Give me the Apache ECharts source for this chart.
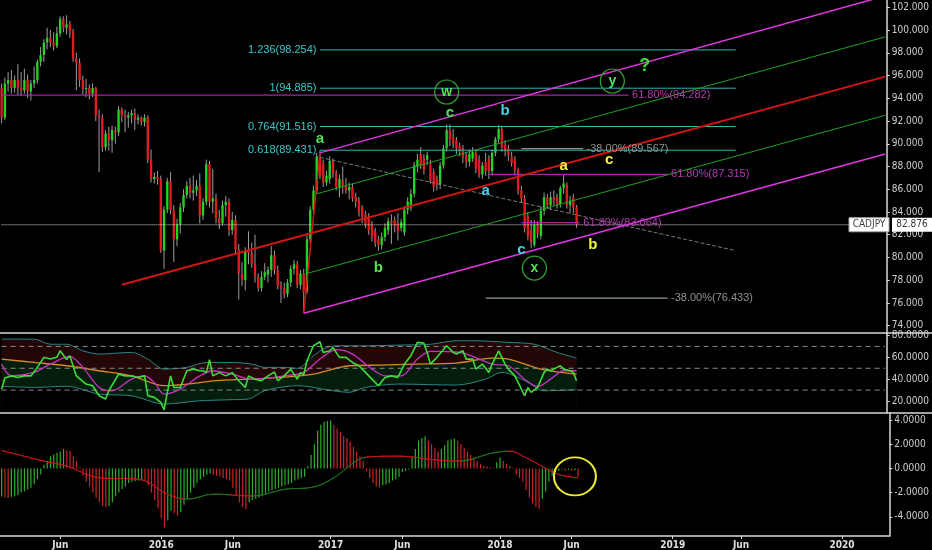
<!DOCTYPE html>
<html>
<head>
<meta charset="utf-8">
<script src="https://cdn.jsdelivr.net/npm/echarts@6/dist/echarts.min.js"></script>
<style>
html, body { margin: 0; padding: 0; background: #000; }
#chart { width: 932px; height: 550px; }
</style>
</head>
<body>
<div id="chart"></div>
<script>
var chart = echarts.init(document.getElementById('chart'));

// weekly CADJPY bars, first bar = week of 26 Jan 2015; rows are [open, close, low, high]
var ohlc2015 = [
    [94.9, 92.3, 91.8, 95.3], [92.3, 95.3, 92.1, 95.8], [95.3, 95.6, 94.6, 96.3], [95.6, 94.9, 94.4, 96.5],
    [94.9, 95.6, 94.5, 96.0], [95.6, 94.9, 94.3, 97.0], [94.9, 94.7, 94.2, 96.3], [94.7, 95.6, 94.4, 96.6],
    [95.6, 94.6, 94.0, 96.1], [94.6, 95.3, 93.8, 95.6], [95.3, 95.6, 94.9, 96.8], [95.6, 97.2, 95.3, 97.4],
    [97.2, 97.8, 96.8, 98.5], [97.8, 98.9, 97.2, 99.2], [98.9, 99.3, 98.3, 100.2], [99.3, 98.9, 98.5, 100.0],
    [98.9, 98.6, 98.2, 99.8], [98.6, 99.7, 98.4, 100.3], [99.7, 101.0, 99.4, 101.2], [101.0, 100.2, 99.8, 101.2],
    [100.2, 100.5, 99.6, 101.3], [100.5, 99.9, 99.3, 100.8], [99.9, 97.5, 97.2, 100.1], [97.5, 97.1, 94.7, 98.0],
    [97.1, 95.6, 95.0, 97.5], [95.6, 94.8, 94.3, 96.0], [94.8, 94.9, 94.1, 95.7], [94.9, 94.4, 93.9, 95.2],
    [94.4, 94.9, 94.1, 95.3], [94.9, 92.5, 92.0, 95.0], [92.5, 92.3, 87.5, 93.0], [92.3, 89.7, 89.3, 92.6],
    [89.7, 90.9, 89.4, 91.2], [90.9, 90.3, 89.4, 91.5], [90.3, 91.2, 89.2, 91.6], [91.2, 91.0, 90.0, 91.5],
    [91.0, 93.0, 90.7, 93.3], [93.0, 92.5, 91.9, 93.2], [92.5, 92.3, 91.0, 93.0], [92.3, 92.5, 91.4, 92.8],
    [92.5, 92.7, 91.8, 93.0], [92.7, 92.1, 91.2, 93.1], [92.1, 92.3, 91.7, 92.6], [92.3, 91.9, 91.6, 92.4],
    [91.9, 92.3, 91.5, 92.6], [92.3, 88.6, 88.3, 92.5], [88.6, 86.9, 86.6, 89.5], [86.9, 87.1, 86.5, 87.5],
    [87.1, 86.9, 86.4, 87.6]
];
var ohlc2016 = [
    [86.9, 80.6, 80.4, 87.2], [80.6, 84.2, 79.0, 84.5], [84.2, 86.7, 83.9, 87.0], [86.7, 84.2, 83.8, 87.5],
    [84.2, 81.6, 79.6, 84.6], [81.6, 82.9, 81.0, 83.4], [82.9, 84.4, 82.1, 84.8], [84.4, 85.5, 84.0, 86.0],
    [85.5, 86.3, 85.2, 86.7], [86.3, 85.7, 85.2, 87.0], [85.7, 85.9, 85.0, 87.2], [85.9, 86.3, 85.4, 86.8],
    [86.3, 83.7, 83.0, 87.4], [83.7, 84.9, 83.3, 85.2], [84.9, 88.2, 84.6, 88.6], [88.2, 84.9, 84.4, 88.5],
    [84.9, 85.2, 83.9, 87.8], [85.2, 83.5, 83.0, 85.6], [83.5, 83.0, 82.5, 84.2], [83.0, 84.6, 82.8, 85.0],
    [84.6, 84.9, 83.6, 85.4], [84.9, 82.4, 81.9, 85.2], [82.4, 83.3, 82.0, 84.0], [83.3, 80.7, 80.3, 83.7],
    [80.7, 78.6, 76.3, 81.2], [78.6, 78.0, 77.5, 79.6], [78.0, 80.6, 77.1, 80.9], [80.6, 80.4, 79.4, 82.3],
    [80.4, 79.5, 79.1, 81.3], [79.5, 78.3, 77.8, 82.0], [78.3, 77.3, 77.0, 78.6], [77.3, 78.3, 77.0, 78.8],
    [78.3, 78.7, 78.0, 79.5], [78.5, 78.9, 77.8, 79.2], [78.9, 80.2, 78.3, 81.0], [80.2, 78.9, 78.5, 80.6],
    [78.9, 77.5, 77.2, 79.3], [77.5, 77.3, 76.0, 77.9], [77.3, 76.8, 76.4, 77.8], [76.8, 77.8, 76.5, 78.1],
    [77.8, 79.0, 77.4, 79.3], [79.0, 79.4, 78.5, 79.8], [79.4, 77.6, 77.3, 79.7], [77.6, 78.6, 77.2, 78.9],
    [78.6, 77.0, 75.1, 79.0], [77.0, 81.6, 76.8, 82.0], [81.6, 84.2, 81.2, 84.5], [84.2, 85.9, 83.8, 86.3],
    [85.9, 88.9, 85.6, 89.2], [88.9, 87.2, 86.9, 89.4], [88.3, 86.6, 86.2, 88.6], [86.6, 87.2, 86.3, 87.6]
];
var ohlc2017 = [
    [86.9, 88.5, 86.5, 88.9], [88.5, 87.4, 87.0, 88.7], [87.4, 86.2, 85.9, 87.7], [86.1, 86.9, 85.3, 87.3],
    [86.8, 86.3, 85.6, 88.0], [86.3, 85.9, 85.6, 87.0], [85.9, 86.2, 85.1, 86.6], [86.2, 85.2, 84.9, 86.5],
    [85.4, 84.9, 84.4, 85.7], [85.0, 83.9, 83.6, 85.3], [84.4, 83.6, 83.0, 84.6], [83.8, 82.9, 82.6, 84.1],
    [83.4, 82.4, 82.0, 83.9], [82.9, 81.9, 81.4, 83.2], [82.3, 81.3, 80.9, 82.6], [81.6, 81.1, 80.6, 81.9],
    [81.1, 81.8, 80.7, 82.2], [81.8, 82.6, 81.4, 83.0], [82.4, 83.2, 82.0, 83.5], [83.2, 83.0, 81.2, 83.8],
    [83.3, 82.8, 82.2, 83.6], [83.0, 82.3, 81.5, 83.9], [82.6, 83.1, 82.3, 83.4], [82.2, 84.2, 81.9, 84.5],
    [84.2, 84.9, 83.8, 85.3], [84.4, 85.6, 84.1, 86.0], [85.6, 88.1, 85.3, 88.4], [88.0, 88.6, 87.5, 89.1],
    [89.1, 88.1, 87.8, 89.7], [88.8, 87.7, 87.3, 89.1], [88.6, 89.0, 88.1, 89.3], [88.2, 86.8, 86.5, 88.6],
    [87.5, 86.2, 85.8, 87.8], [86.9, 86.4, 85.9, 87.2], [86.4, 88.1, 86.0, 88.4], [88.1, 89.6, 87.8, 89.9],
    [89.6, 91.2, 89.3, 91.7], [91.2, 90.4, 89.8, 91.7], [90.6, 90.0, 89.6, 91.3], [90.3, 89.6, 89.1, 90.6],
    [89.8, 89.3, 88.9, 90.1], [89.6, 88.8, 88.3, 89.9], [89.0, 88.4, 87.9, 89.3], [88.4, 89.1, 88.0, 89.5],
    [88.7, 89.3, 88.4, 89.7], [89.2, 87.8, 87.4, 89.5], [88.6, 87.3, 87.0, 89.0], [87.3, 88.1, 86.9, 88.4],
    [88.4, 87.6, 87.2, 89.2], [88.7, 87.6, 86.9, 89.0], [87.6, 89.2, 87.2, 89.5], [89.2, 90.4, 88.9, 90.6]
];
var ohlc2018 = [
    [90.4, 91.3, 90.1, 91.65], [91.3, 89.7, 89.3, 91.6], [89.9, 89.3, 88.9, 90.3], [89.6, 89.0, 88.5, 89.9],
    [88.9, 88.3, 88.0, 89.3], [88.6, 87.7, 87.2, 88.9], [87.7, 85.9, 85.5, 87.9], [85.9, 85.2, 84.8, 86.3],
    [85.2, 82.6, 82.2, 85.5], [83.6, 81.9, 81.5, 84.0], [82.4, 81.3, 80.8, 83.3], [81.1, 82.9, 80.9, 83.3],
    [82.9, 82.1, 81.7, 83.2], [81.9, 84.1, 81.6, 84.5], [84.1, 85.3, 83.7, 85.7], [85.3, 84.6, 84.3, 85.6],
    [84.6, 85.3, 84.2, 85.8], [85.3, 85.0, 84.6, 85.9], [85.3, 84.7, 84.3, 85.6], [84.7, 86.1, 84.4, 86.3],
    [86.1, 86.5, 85.6, 87.25], [86.4, 84.6, 84.3, 86.6], [84.6, 85.0, 83.9, 85.4], [85.3, 84.4, 83.9, 85.6],
    [84.4, 82.876, 82.6, 84.6]
];
var lastClose = 82.876;

// MACD histogram, one bar per week
var macd2015 = [-2.3, -2.4, -2.45, -2.35, -2.3, -2.2, -2.0, -1.9, -1.75, -1.6, -1.3, -0.9, -0.5, 0.3, 0.6, 1.0,
    1.15, 1.3, 1.4, 1.6, 1.5, 1.45, 1.0, 0.6, 0.1, -0.6, -1.1, -1.5, -2.0, -2.4, -2.8, -3.1, -3.2, -3.1, -2.8,
    -2.3, -2.0, -1.7, -1.5, -1.2, -1.1, -1.05, -1.0, -0.95, -1.0, -1.4, -2.0, -2.6, -3.3];
var macd2016 = [-4.1, -4.9, -4.3, -3.5, -3.7, -3.9, -3.6, -3.0, -2.5, -2.0, -1.6, -1.2, -0.9, -0.7, -0.5, -0.4,
    -0.5, -0.6, -0.7, -0.8, -0.9, -1.0, -1.6, -2.2, -2.8, -3.2, -3.4, -2.8, -2.6, -2.5, -2.4, -2.3, -2.1, -1.9,
    -1.8, -1.7, -1.6, -1.5, -1.4, -1.3, -1.2, -1.0, -0.9, -0.8, -0.7, 0.2, 1.1, 2.0, 3.1, 3.6, 3.85, 3.9];
var macd2017 = [3.95, 3.6, 3.3, 3.0, 2.7, 2.5, 2.2, 1.8, 1.4, 1.0, 0.6, -0.2, -0.8, -1.2, -1.5, -1.6, -1.4, -1.3,
    -1.2, -1.0, -0.9, -0.7, -0.3, -0.2, -0.1, 0.9, 1.6, 2.3, 2.5, 2.65, 2.3, 2.0, 1.7, 1.4, 1.6, 1.9, 2.3, 2.4,
    2.45, 2.3, 2.0, 1.7, 1.4, 1.1, 0.9, 0.6, 0.35, 0.2, 0.15, 0.1, 0.05, 0.5];
var macd2018 = [0.9, 0.6, 0.4, 0.2, 0.05, -0.5, -0.8, -1.1, -1.8, -2.4, -2.9, -3.2, -3.35, -2.5, -1.9, -1.1, -0.6,
    -0.3, -0.2, -0.1, -0.2, -0.1, -0.2, -0.15, -0.7];
// MACD signal line, [week index, value]
var macdSignal = [[0, 1.48], [13, 0.6], [20, 0.19], [30, -0.77], [42, -0.9], [51, -2.13], [57, -2.54], [65, -2.13],
    [77, -2.27], [87, -1.72], [95, -1.58], [102, -0.77], [108, 0.46], [112, 0.93], [122, 1.01], [132, 0.74],
    [140, 0.6], [151, 1.28], [156, 1.42], [161, 0.87], [171, -0.49], [177, -0.77]];

// RSI panel, [week index, value]
var rsiLine = [[0, 31], [1, 41], [3, 43], [5, 41.6], [7, 43], [9, 43], [11, 50.8], [13, 60], [15, 58.4], [17, 60],
    [18, 66], [20, 58], [21, 61.5], [23, 43], [26, 35.5], [28, 34], [30, 24.8], [32, 21.8], [33, 29.4], [36, 44.6],
    [38, 43], [40, 43], [42, 41.6], [44, 43], [45, 24.8], [47, 23.3], [49, 18.7], [50, 12], [52, 43], [53, 32.4],
    [55, 32.4], [57, 47.7], [59, 49.2], [61, 47.7], [62, 47.7], [63, 46], [64, 57.8], [65, 43], [67, 46], [69, 43],
    [71, 46], [73, 38.6], [75, 32.4], [76, 43], [78, 40], [80, 38.6], [82, 43], [84, 46.6], [85, 38.6], [87, 43],
    [89, 49.2], [91, 40], [92, 46], [93, 44], [94, 56.9], [96, 70.6], [98, 74.3], [99, 64.5], [101, 66], [102, 69],
    [104, 60], [106, 60], [108, 55.3], [110, 52.3], [112, 46.2], [114, 40], [116, 34], [118, 41.6], [120, 43],
    [122, 41.6], [124, 53.8], [126, 61.5], [128, 73.7], [130, 73], [131, 64.5], [132, 53.8], [134, 60], [137, 70.6],
    [139, 64.5], [140, 63], [142, 66], [143, 58.4], [145, 58.4], [146, 49.2], [148, 53.8], [150, 46.2], [151, 53.8],
    [153, 66], [155, 53.8], [156, 49.2], [158, 43], [159, 37], [161, 24.8], [162, 32.4], [163, 27.9], [165, 32.4],
    [167, 46.2], [168, 49.2], [169, 47.7], [171, 50.8], [172, 52.3], [173, 49.2], [175, 47.7], [176, 46.2], [177, 38.6]];
var rsiUpper = [[0, 76.7], [10, 76.7], [15, 72], [20, 72], [25, 66], [30, 63], [40, 64.5], [45, 58.4], [50, 49.2],
    [57, 50.8], [63, 55.3], [71, 55.3], [77, 53.8], [81, 50.8], [87, 50.8], [91, 50], [96, 61.5], [100, 69],
    [104, 70.6], [112, 70.6], [122, 71.2], [132, 72], [140, 75.2], [145, 75.2], [156, 73.7], [164, 72], [171, 64.5],
    [177, 59.3]];
var rsiLower = [[0, 33.5], [10, 32.4], [20, 33.5], [30, 26.3], [40, 24.8], [50, 17.2], [61, 20.2], [71, 21.2],
    [76, 21.8], [81, 29.4], [91, 34], [102, 29.4], [107, 27.9], [112, 32.4], [122, 35.5], [140, 34.6], [149, 40],
    [154, 46.2], [161, 38.6], [167, 29.4], [177, 30.3]];
var rsiMid = [[0, 58.4], [10, 55.3], [20, 52.3], [30, 47.7], [40, 43], [50, 34], [57, 35.5], [66, 38.6], [76, 40],
    [86, 41.6], [96, 44.6], [107, 52.3], [117, 52.9], [127, 53.8], [140, 54.7], [151, 59.3], [156, 58.4],
    [166, 49.2], [177, 44.6]];
var rsiAvg = [[0, 53.8], [3, 43], [10, 46.2], [15, 53.8], [21, 60.8], [25, 50.8], [30, 32.4], [34, 29.4], [40, 40],
    [44, 43], [47, 37], [50, 26.3], [55, 30.9], [61, 43], [65, 47.7], [71, 44.6], [77, 40], [87, 43], [93, 46.2],
    [98, 58.4], [103, 67], [108, 63], [114, 49.2], [118, 43], [123, 43], [128, 58.4], [132, 65.4], [141, 64.5],
    [151, 53.8], [156, 52.3], [161, 40], [165, 33.3], [169, 40], [173, 47.7], [177, 47.7]];
var rsiLevels = [70, 50, 30];

// drawn studies on the price panel, [week index, price]
var forkUpper = [[98, 89.2], [272, 103.0]];
var forkInnerUpper = [[97, 85.6], [272, 99.4]];
var forkMedian = [[37, 77.6], [272, 95.9]];
var forkInnerLower = [[94, 78.6], [272, 92.5]];
var forkLower = [[93, 75.1], [272, 89.1]];
var forkHandle = [[93, 75.1], [98, 89.2]];
var trendDashed = [[98, 88.8], [226, 80.6]];

var fibExtLevels = [98.254, 94.885, 91.516, 89.431];
var fibExtRatios = ['1.236', '1', '0.764', '0.618'];
var fibExtSpan = [98, 226];
var retrace618 = [94.282, 87.315, 83.064];
var retrace618Spans = [[0, 193], [150, 205], [160, 178]];
var retrace38 = [89.567, 76.433];
var retrace38Spans = [[160, 179], [149, 205]];

var greenWaves = ['a', 'b', 'c'];
var greenWavePos = [[98, 90.4], [116, 79.1], [138, 92.7]];
var cyanWaves = ['b', 'a', 'c'];
var cyanWavePos = [[155, 92.9], [149, 85.85], [160, 80.65]];
var yellowWaves = ['a', 'c', 'b'];
var yellowWavePos = [[173, 88.05], [187, 88.6], [182, 81.1]];
var circledWaves = ['w', 'x', 'y'];
var circledWavePos = [[137, 94.55], [164, 79.07], [188, 95.52]];
var questionPos = [[198, 96.84]];
var macdCircle = [[176, -0.66]];

var priceTicks = [74, 76, 78, 80, 82, 84, 86, 88, 90, 92, 94, 96, 98, 100, 102];
var rsiTicks = [20, 40, 60, 80];
var macdTicks = [-4, -2, 0, 2, 4];

// weekly categories
var weekCount = 273;
var firstWeek = Date.UTC(2015, 0, 26);
var weeks = [];
for (var i = 0; i < weekCount; i++) {
    weeks.push(new Date(firstWeek + i * 7 * 86400000).toISOString().slice(0, 10));
}
function isLabelWeek(index, value) {
    var m = +value.slice(5, 7), d = +value.slice(8, 10);
    return (m === 1 || m === 6) && d <= 7;
}

var ohlc = ohlc2015.concat(ohlc2016, ohlc2017, ohlc2018);
var candleData = ohlc.map(function (r, k) { return [k, r[0], r[1], r[2], r[3]]; });
var macdHist = macd2015.concat(macd2016, macd2017, macd2018);

var UP = '#22d422', DOWN = '#e01c1c';
var narrow = "'Liberation Sans Narrow', 'DejaVu Sans Condensed', sans-serif";

function renderCandle(params, api) {
    var k = api.value(0);
    var o = api.coord([k, api.value(1)]);
    var c = api.coord([k, api.value(2)]);
    var lo = api.coord([k, api.value(3)]);
    var hi = api.coord([k, api.value(4)]);
    var w = api.size([1, 0])[0] * 0.72;
    var top = Math.min(o[1], c[1]);
    var h = Math.max(Math.abs(o[1] - c[1]), 1);
    return {
        type: 'group',
        children: [
            { type: 'line', shape: { x1: o[0], y1: hi[1], x2: o[0], y2: lo[1] }, style: { stroke: '#9c9c9c', lineWidth: 1 } },
            { type: 'rect', shape: { x: o[0] - w / 2, y: top, width: w, height: h },
              style: { fill: api.value(2) >= api.value(1) ? UP : DOWN } }
        ]
    };
}

function seg(points, color, width, type, grid, z) {
    return {
        type: 'line', xAxisIndex: grid, yAxisIndex: grid, data: points, symbol: 'none', silent: true,
        lineStyle: { color: color, width: width, type: type || 'solid' }, z: z || 3
    };
}

// invisible points that only carry a text label
function labelPoints(grid, items) {
    return {
        type: 'scatter', xAxisIndex: grid, yAxisIndex: grid, symbolSize: 1, silent: true, z: 8,
        itemStyle: { color: 'transparent', opacity: 1 }, data: items
    };
}

function textMarks(points, texts, color, size, grid) {
    return labelPoints(grid, points.map(function (p, k) {
        return { value: p, label: { show: true, position: 'inside', formatter: texts[k], color: color,
            fontSize: size, fontWeight: 'bold', fontFamily: 'Liberation Sans' } };
    }));
}

function fibLabel(text, color, side) {
    return { show: true, position: side, distance: 3, formatter: text, color: color, fontSize: 11,
        fontFamily: 'Liberation Sans' };
}

var series = [];

// price panel
series.push({ type: 'custom', xAxisIndex: 0, yAxisIndex: 0, renderItem: renderCandle, clip: true, silent: true,
    encode: { x: 0, y: [1, 2, 3, 4] }, data: candleData, z: 2 });
series.push(seg([[0, lastClose], [weekCount - 1, lastClose]], '#d6d6d6', 1, 'dotted', 0, 3));
series.push(seg(trendDashed, '#7a7a7a', 1, 'dashed', 0, 3));
series.push(seg(forkMedian, '#d41414', 2, 'solid', 0, 4));
series.push(seg(forkHandle, '#d41414', 1.5, 'solid', 0, 4));
series.push(seg(forkInnerUpper, '#1fa31f', 1, 'solid', 0, 4));
series.push(seg(forkInnerLower, '#1fa31f', 1, 'solid', 0, 4));
series.push(seg(forkUpper, '#e236e2', 1.5, 'solid', 0, 4));
series.push(seg(forkLower, '#e236e2', 1.5, 'solid', 0, 4));

fibExtLevels.forEach(function (v, k) {
    series.push(seg([[fibExtSpan[0], v], [fibExtSpan[1], v]], '#35b5b5', 1, 'solid', 0, 3));
    series.push(labelPoints(0, [{ value: [fibExtSpan[0], v],
        label: fibLabel(fibExtRatios[k] + '(' + v.toFixed(3) + ')', '#3cc8c8', 'left') }]));
});
retrace618.forEach(function (v, k) {
    var sp = retrace618Spans[k];
    series.push(seg([[sp[0], v], [sp[1], v]], '#a424a4', 1.2, 'solid', 0, 3));
    series.push(labelPoints(0, [{ value: [sp[1], v],
        label: fibLabel('61.80%(' + v.toFixed(3) + ')', '#b13cb1', 'right') }]));
});
retrace38.forEach(function (v, k) {
    var sp = retrace38Spans[k];
    series.push(seg([[sp[0], v], [sp[1], v]], '#8a9a9a', 1.2, 'solid', 0, 3));
    series.push(labelPoints(0, [{ value: [sp[1], v],
        label: fibLabel('-38.00%(' + v.toFixed(3) + ')', '#929292', 'right') }]));
});

series.push(textMarks(greenWavePos, greenWaves, '#55e055', 15, 0));
series.push(textMarks(cyanWavePos, cyanWaves, '#48d2e6', 15, 0));
series.push(textMarks(yellowWavePos, yellowWaves, '#f4f43c', 15, 0));
series.push(textMarks(questionPos, ['?'], '#3ade3a', 18, 0));
series.push({ type: 'scatter', xAxisIndex: 0, yAxisIndex: 0, symbol: 'circle', symbolSize: 24, silent: true, z: 8,
    itemStyle: { color: 'transparent', borderColor: '#2fa82f', borderWidth: 1.2, opacity: 1 },
    label: { show: true, position: 'inside', color: '#55e055', fontSize: 14, fontWeight: 'bold', fontFamily: 'Liberation Sans',
        formatter: function (p) { return circledWaves[p.dataIndex]; } },
    data: circledWavePos });

// RSI panel: band fills are layered upper -> middle -> lower
series.push({ type: 'line', xAxisIndex: 1, yAxisIndex: 1, data: rsiUpper, symbol: 'none', smooth: 0.3, silent: true,
    lineStyle: { color: '#2a8686', width: 1 }, areaStyle: { color: '#230707', opacity: 1, origin: 'start' }, z: 1 });
series.push({ type: 'line', xAxisIndex: 1, yAxisIndex: 1, data: rsiMid, symbol: 'none', smooth: 0.3, silent: true,
    lineStyle: { color: '#d88a22', width: 1.3 }, areaStyle: { color: '#051d0b', opacity: 1, origin: 'start' }, z: 1 });
series.push({ type: 'line', xAxisIndex: 1, yAxisIndex: 1, data: rsiLower, symbol: 'none', smooth: 0.3, silent: true,
    lineStyle: { color: '#2a8686', width: 1 }, areaStyle: { color: '#000', opacity: 1, origin: 'start' }, z: 1 });
rsiLevels.forEach(function (v) {
    series.push(seg([[0, v], [weekCount - 1, v]], '#8a8a8a', 1, [5, 4], 1, 2));
});
series.push({ type: 'line', xAxisIndex: 1, yAxisIndex: 1, data: rsiAvg, symbol: 'none', smooth: 0.3, silent: true,
    lineStyle: { color: '#c634c6', width: 1.3 }, z: 3 });
series.push({ type: 'line', xAxisIndex: 1, yAxisIndex: 1, data: rsiLine, symbol: 'none', silent: true,
    lineStyle: { color: '#3cdc3c', width: 1.6 }, z: 4 });

// MACD panel
series.push({ type: 'bar', xAxisIndex: 2, yAxisIndex: 2, data: macdHist, barWidth: 1.2, silent: true, z: 2,
    itemStyle: { color: function (p) {
        var prev = p.dataIndex > 0 ? macdHist[p.dataIndex - 1] : p.value;
        return p.value >= prev ? '#2fae2f' : '#c82626';
    } } });
var signalIndex = series.length;
series.push({ type: 'line', xAxisIndex: 2, yAxisIndex: 2, data: macdSignal, symbol: 'none', smooth: 0.4, silent: true,
    lineStyle: { width: 1 }, z: 3 });
series.push({ type: 'scatter', xAxisIndex: 2, yAxisIndex: 2, data: macdCircle, symbol: 'circle', symbolSize: [42, 38],
    silent: true, z: 5, itemStyle: { color: 'transparent', borderColor: '#ecec2e', borderWidth: 2, opacity: 1 } });

function xAxisFor(grid, showLabels) {
    return {
        type: 'category', gridIndex: grid, data: weeks, boundaryGap: true,
        axisLine: { show: showLabels, onZero: false, lineStyle: { color: '#d8d8d8', width: 1.5 } },
        axisTick: { show: showLabels, interval: isLabelWeek, alignWithLabel: true, length: 3, lineStyle: { color: '#d8d8d8' } },
        axisLabel: { show: showLabels, interval: isLabelWeek, color: '#e0e0e0', fontSize: 10, fontWeight: 'bold',
            fontFamily: narrow, margin: 4,
            formatter: function (v) { return v.slice(5, 7) === '01' ? v.slice(0, 4) : 'Jun'; } },
        splitLine: { show: false }
    };
}
function yAxisFor(grid, min, max, ticks, digits) {
    return {
        type: 'value', gridIndex: grid, position: 'right', min: min, max: max,
        splitLine: { show: false },
        axisLine: { show: true, lineStyle: { color: '#d8d8d8', width: 1.5 } },
        axisTick: { show: true, length: 3, customValues: ticks, lineStyle: { color: '#d8d8d8' } },
        axisLabel: { customValues: ticks, color: '#d0d0d0', fontSize: 10, fontFamily: narrow, margin: 5,
            formatter: function (v) { return v.toFixed(digits); } }
    };
}

chart.setOption({
    backgroundColor: '#000',
    animation: false,
    grid: [
        { left: 0, right: 41, top: 0, height: 333 },
        { left: 0, right: 41, top: 333, height: 80 },
        { left: 0, right: 41, top: 413, height: 124 }
    ],
    xAxis: [xAxisFor(0, false), xAxisFor(1, false), xAxisFor(2, true)],
    yAxis: [
        yAxisFor(0, 73.36, 102.64, priceTicks, 3),
        yAxisFor(1, 9, 82.3, rsiTicks, 4),
        yAxisFor(2, -5.58, 4.57, macdTicks, 4)
    ],
    visualMap: [{
        show: false, type: 'piecewise', seriesIndex: signalIndex, dimension: 0,
        pieces: [
            { lt: 56, color: '#b81818' }, { gte: 56, lt: 70, color: '#1d6e1d' }, { gte: 70, lt: 77, color: '#b81818' },
            { gte: 77, lt: 112, color: '#1d6e1d' }, { gte: 112, lt: 141, color: '#b81818' },
            { gte: 141, lt: 155, color: '#1d6e1d' }, { gte: 155, color: '#b81818' }
        ]
    }],
    series: series
});

// panel separators and last-price tags
var yLast = chart.convertToPixel({ yAxisIndex: 0 }, lastClose);
chart.setOption({
    graphic: [
        { type: 'line', shape: { x1: 0, y1: 333, x2: 932, y2: 333 }, style: { stroke: '#d8d8d8', lineWidth: 1.5 }, z: 50 },
        { type: 'line', shape: { x1: 0, y1: 413, x2: 932, y2: 413 }, style: { stroke: '#d8d8d8', lineWidth: 1.5 }, z: 50 },
        { type: 'rect', shape: { x: 849, y: yLast - 7, width: 40, height: 14 }, style: { fill: '#fff', stroke: '#aaa' }, z: 60 },
        { type: 'text', z: 61, style: { text: 'CADJPY', x: 869, y: yLast, align: 'center', verticalAlign: 'middle',
            textAlign: 'center', textVerticalAlign: 'middle', fill: '#444', font: '10px ' + narrow } },
        { type: 'rect', shape: { x: 892, y: yLast - 7, width: 40, height: 14 }, style: { fill: '#fff' }, z: 60 },
        { type: 'text', z: 61, style: { text: lastClose.toFixed(3), x: 912, y: yLast, align: 'center', verticalAlign: 'middle',
            textAlign: 'center', textVerticalAlign: 'middle', fill: '#333', font: '10px ' + narrow } }
    ]
});
</script>
</body>
</html>
